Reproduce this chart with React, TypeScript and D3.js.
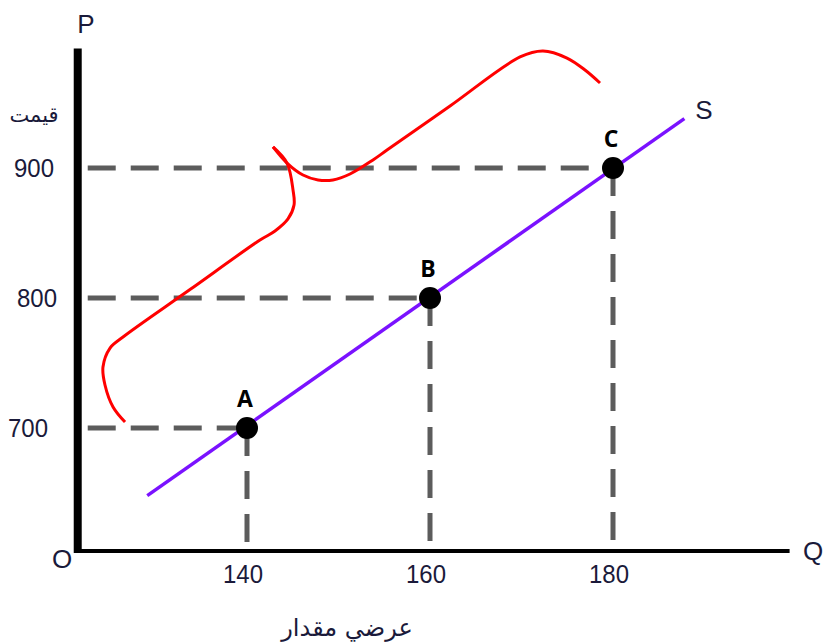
import React from "react";
import * as d3 from "d3";

// ---- data ----
const pointLabels = ["A", "B", "C"];
const quantities = [140, 160, 180];
const prices = [700, 800, 900];
const xTicks = [140, 160, 180];
const yTicks = [700, 800, 900];
const supplyQ = [129.1, 187.8];
const supplyP = [648, 938];
// hand-drawn brace, in (Q, P) units
const braceLowerQ = [126.67, 125.36, 124.48, 124.26, 125.03, 126.45, 133.77, 141.42, 143.06, 144.48, 145.14, 145.03, 144.37, 142.84];
const braceLowerP = [704.6, 716.2, 733.1, 746.9, 761.5, 770.0, 806.5, 844.6, 851.5, 860.8, 871.5, 883.1, 903.8, 916.2];
const braceUpperQ = [142.84, 144.37, 146.12, 147.76, 149.4, 151.26, 153.77, 155.3, 162.19, 169.84, 172.35, 174.97, 176.94, 178.58];
const braceUpperP = [916.2, 903.8, 894.6, 890.8, 890.8, 895.4, 906.2, 913.8, 947.7, 985.4, 990.0, 984.6, 975.4, 965.4];
const axisQ = [121.5, 199.3];
const axisP = [605.4, 992];
const priceLabel = "قیمت";
const quantityLabel = "عرضي مقدار";

const W = 827;
const H = 643;

export default function App() {
  const x = d3.scaleLinear().domain([140, 180]).range([247, 613]);
  const y = d3.scaleLinear().domain([700, 900]).range([428, 168]);
  const line = d3
    .line<[number, number]>()
    .x((d) => x(d[0]))
    .y((d) => y(d[1]))
    .curve(d3.curveCatmullRom.alpha(0.5));
  const lower = braceLowerQ.map((q, i) => [q, braceLowerP[i]] as [number, number]);
  const upper = braceUpperQ.map((q, i) => [q, braceUpperP[i]] as [number, number]);
  const x0 = x(axisQ[0]);
  const x1 = x(axisQ[1]);
  const y0 = y(axisP[0]);
  const y1 = y(axisP[1]);
  const dashColor = "#5c5c5c";
  const sans = "'Liberation Sans', Arial, sans-serif";
  const ink = "#1a1a3a";

  return (
    <svg
      width={W}
      height={H}
      style={{ position: "absolute", left: 0, top: 0, background: "#fff" }}
    >
      {/* guide dashes */}
      {quantities.map((q, i) => (
        <g key={"g" + i}>
          <line
            x1={x0 + 10}
            x2={x(q)}
            y1={y(prices[i])}
            y2={y(prices[i])}
            stroke={dashColor}
            strokeWidth={5}
            strokeDasharray="28 15"
          />
          <line
            x1={x(q)}
            x2={x(q)}
            y1={y(prices[i])}
            y2={y0}
            stroke={dashColor}
            strokeWidth={5}
            strokeDasharray="28 15"
          />
        </g>
      ))}
      {/* axes */}
      <line x1={x0} x2={x0} y1={y1} y2={y0 + 2} stroke="#000" strokeWidth={8} />
      <line x1={x0} x2={x1} y1={y0} y2={y0} stroke="#000" strokeWidth={4} />
      {/* supply */}
      <line
        x1={x(supplyQ[0])}
        y1={y(supplyP[0])}
        x2={x(supplyQ[1])}
        y2={y(supplyP[1])}
        stroke="#7a12ff"
        strokeWidth={3.5}
      />
      {/* brace */}
      <path d={line(lower) || ""} fill="none" stroke="#ff0000" strokeWidth={3} />
      <path d={line(upper) || ""} fill="none" stroke="#ff0000" strokeWidth={3} />
      {/* points */}
      {quantities.map((q, i) => (
        <g key={"p" + i}>
          <circle cx={x(q)} cy={y(prices[i])} r={11} fill="#000" />
          <text
            x={x(q) - 2}
            y={y(prices[i]) - 21}
            textAnchor="middle"
            fontFamily="'Open Sans', sans-serif"
            fontWeight={700}
            fontSize={23}
            fill="#000"
          >
            {pointLabels[i]}
          </text>
        </g>
      ))}
      {/* tick labels */}
      {xTicks.map((t) => (
        <text
          key={"x" + t}
          transform={`translate(${x(t) - 4},583) scale(1,1.1)`}
          textAnchor="middle"
          fontFamily={sans}
          fontSize={24}
          fill={ink}
        >
          {t}
        </text>
      ))}
      {yTicks.map((t, i) => (
        <text
          key={"y" + t}
          transform={`translate(${[28, 37, 34][i]},${y(t) + 9}) scale(1,1.1)`}
          textAnchor="middle"
          fontFamily={sans}
          fontSize={24}
          fill={ink}
        >
          {t}
        </text>
      ))}
      {/* axis letters */}
      <text x={86} y={33} textAnchor="middle" fontFamily={sans} fontSize={26} fill={ink}>P</text>
      <text x={813} y={560} textAnchor="middle" fontFamily={sans} fontSize={26} fill={ink}>Q</text>
      <text x={62} y={568} textAnchor="middle" fontFamily={sans} fontSize={26} fill={ink}>O</text>
      <text x={704} y={119} textAnchor="middle" fontFamily={sans} fontSize={26} fill={ink}>S</text>
      {/* persian labels */}
      <text x={34} y={122} textAnchor="middle" fontFamily="'DejaVu Sans', sans-serif" fontSize={21} fill={ink}>
        {priceLabel}
      </text>
      <text x={347} y={636} textAnchor="middle" fontFamily="'DejaVu Sans', sans-serif" fontSize={24} fill={ink}>
        {quantityLabel}
      </text>
    </svg>
  );
}
